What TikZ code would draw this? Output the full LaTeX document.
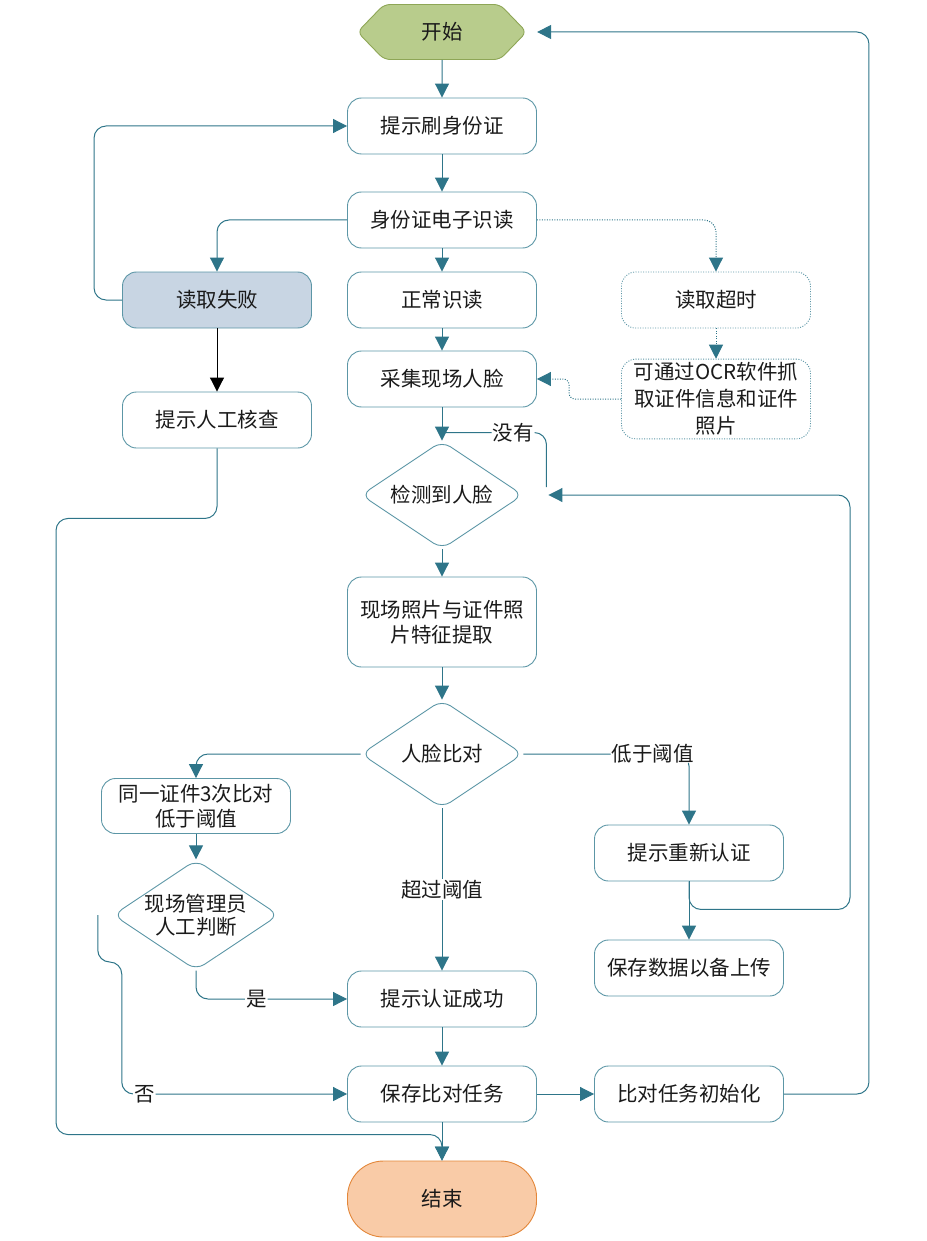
\documentclass[tikz,border=0pt]{standalone}
\usepackage{fontspec}
\setmainfont{Noto Sans CJK SC}
\usetikzlibrary{arrows.meta,calc,positioning,shapes.geometric,shapes.symbols}
\definecolor{FlowTeal}{HTML}{2E7589}
\definecolor{EdgeTeal}{HTML}{5C96A6}
\definecolor{StartGreen}{HTML}{B8CC8C}
\definecolor{StartEdge}{HTML}{8EA656}
\definecolor{EndPeach}{HTML}{F9CBA7}
\definecolor{EndEdge}{HTML}{E3873A}
\definecolor{FailBlue}{HTML}{C8D5E3}
\definecolor{Ink}{HTML}{1A1A1A}
\tikzset{
  box/.style={
    draw=EdgeTeal,
    line width=0.9pt,
    rounded corners=14pt,
    minimum width=189pt,
    minimum height=56pt,
    align=center,
    text=Ink,
    font=\fontsize{20.5}{25}\selectfont
  },
  dotbox/.style={box, dash pattern=on 1pt off 1.5pt},
  decision/.style={
    diamond,
    aspect=1.5,
    draw=EdgeTeal,
    line width=0.9pt,
    rounded corners=10pt,
    minimum width=162pt,
    minimum height=108pt,
    inner sep=0pt,
    align=center,
    text=Ink,
    font=\fontsize{20.5}{25}\selectfont
  },
  link/.style={draw=FlowTeal, line width=1pt, rounded corners=12pt},
  flow/.style={link, -{Triangle[length=14pt,width=14pt]}},
  dotflow/.style={flow, dash pattern=on 1pt off 1.5pt},
  tag/.style={fill=white, inner sep=1pt, text=Ink, font=\fontsize{20.5}{25}\selectfont}
}
\begin{document}
\begin{tikzpicture}[x=1pt,y=1pt]
  \useasboundingbox (0,0) rectangle (926,-1241);

  % terminals
  \node[signal, signal to=east and west, signal pointer angle=92,
        fill=StartGreen, draw=StartEdge, line width=0.9pt, rounded corners=6pt,
        minimum width=169pt, minimum height=55pt, text=Ink,
        font=\fontsize{20.5}{25}\selectfont] (start) at (442,-32) {开始};
  \node[box, fill=EndPeach, draw=EndEdge, rounded corners=36pt,
        minimum height=76pt] (finish) at (442,-1199) {结束};

  % card reading
  \node[box] (prompt) at (442,-126) {提示刷身份证};
  \node[box] (readid) at (442,-220) {身份证电子识读};
  \node[box, fill=FailBlue] (fail) at (217,-300) {读取失败};
  \node[box] (normal) at (442,-300) {正常识读};
  \node[dotbox] (timeout) at (716,-300) {读取超时};
  \node[box] (capture) at (442,-379) {采集现场人脸};
  \node[dotbox, minimum height=78pt, inner xsep=2pt,
        font=\fontsize{20.5}{27}\selectfont] (ocr) at (716,-399)
        {可通过OCR软件抓\\取证件信息和证件\\照片};
  \node[box] (manual) at (217,-420) {提示人工核查};

  % face check
  \node[decision] (detect) at (442,-495) {检测到人脸};
  \node[box, minimum height=90pt] (extract) at (442,-622) {现场照片与证件照\\片特征提取};
  \node[decision] (compare) at (442,-754) {人脸比对};
  \node[box, minimum height=55pt] (thrice) at (196,-806) {同一证件3次比对\\低于阈值};
  \node[decision, font=\fontsize{20.5}{23}\selectfont] (judge) at (196,-915) {现场管理员\\人工判断};
  \node[box] (retry) at (689,-853) {提示重新认证};
  \node[box] (keep) at (689,-968) {保存数据以备上传};
  \node[box] (success) at (442,-999) {提示认证成功};
  \node[box] (savetask) at (442,-1094) {保存比对任务};
  \node[box] (reset) at (689,-1094) {比对任务初始化};

  \coordinate (nofacein) at ([yshift=8pt]detect.north);
  \coordinate (nofaceout) at ([xshift=23pt,yshift=8pt]detect.east);

  % connectors
  \draw[flow] (start) -- (prompt);
  \draw[flow] (prompt) -- (readid);
  \draw[flow] (readid) -- (normal);
  \draw[flow] (readid.west) -| (fail.north);
  \draw[dotflow] (readid.east) -| (timeout.north);
  \draw[dotflow] (timeout) -- (ocr);
  \draw[dotflow, rounded corners=6pt] (ocr.west) -- ++(-52,0) |- (capture.east);
  \draw[flow] (fail.west) -- ++(-28,0) |- (prompt.west);
  \draw[line width=1pt, -{Triangle[length=14pt,width=14pt]}] (fail) -- (manual);
  \draw[flow] (normal) -- (capture);
  \draw[flow] (capture) -- (detect);
  \draw[link] (nofaceout) |- node[tag, pos=0.66] {没有} (nofacein);
  \draw[flow] (detect) -- (extract);
  \draw[flow] (extract) -- (compare);
  \draw[flow] (compare.west) -| (thrice.north);
  \draw[flow] (compare.east) -| node[tag, pos=0.39] {低于阈值} (retry.north);
  \draw[flow] (compare) -- node[tag] {超过阈值} (success);
  \draw[flow] (thrice) -- (judge);
  \draw[flow] (judge.south) |- node[tag, pos=0.7] {是} (success.west);
  \draw[flow] (judge.west) ++(-15,0) -- ++(0,-47) -- ++(24,0)
    |- node[tag, pos=0.55] {否} (savetask.west);
  \draw[flow] (retry) -- (keep);
  \draw[flow] (retry.south) -- ++(0,-28) -- ++(161,0) |- ([xshift=25pt]detect.east);
  \draw[flow] (success) -- (savetask);
  \draw[flow] (savetask) -- (reset);
  \draw[flow] (savetask) -- (finish);
  \draw[flow] (manual.south) -- ++(0,-70) -- ++(-161,0) |- ([yshift=26pt]finish.north) -- (finish.north);
  \draw[flow] (reset.east) -- ++(85,0) |- ([xshift=10pt]start.east);
\end{tikzpicture}
\end{document}
